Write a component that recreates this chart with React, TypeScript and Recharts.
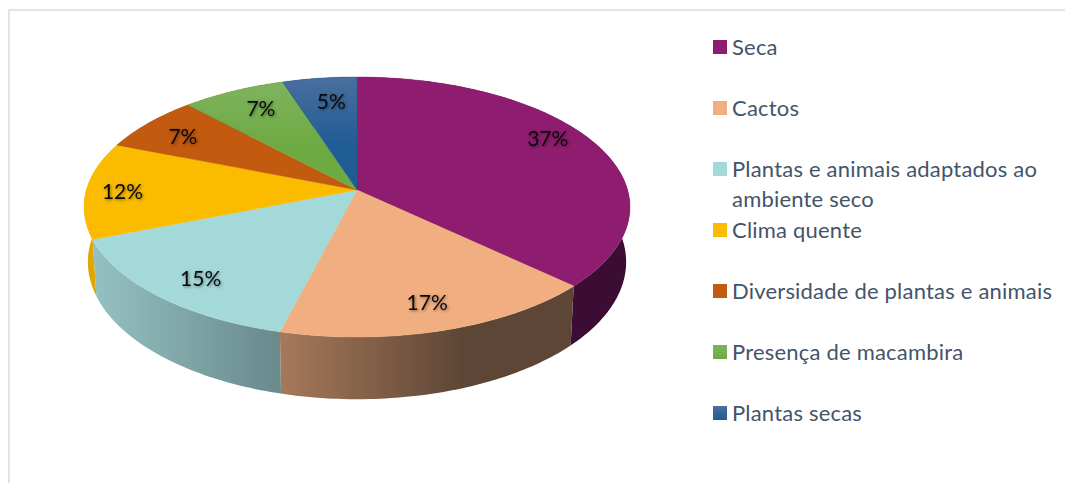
import { PieChart, Pie, Legend } from "recharts";

const THEMES = [
  "Seca",
  "Cactos",
  "Plantas e animais adaptados ao ambiente seco",
  "Clima quente",
  "Diversidade de plantas e animais",
  "Presença de macambira",
  "Plantas secas",
];
const SHARES = [37, 17, 15, 12, 7, 7, 5];

const TOP_COLORS = ["#8f1d6f", "#f1ae80", "#a4d9da", "#fbbc00", "#c25a10", "#6eaa42", "#205c94"];
const TOP_LIGHT = ["#8f1d6f", "#f1ae80", "#a4d9da", "#fbbc00", "#c25a10", "#7eb35f", "#4a6f9e"];
const WALL_FROM = ["#3b0c34", "#a6795b", "#95c1c2", "#dfa702", "#7d3a0a", "#47702b", "#153c60"];
const WALL_TO = ["#3b0c34", "#5e4636", "#69898b", "#dfa702", "#7d3a0a", "#47702b", "#153c60"];

// small shifts that keep each percentage clear of the slice edges
const LABEL_NUDGE = [
  [0, -14],
  [3, 2],
  [-1, 4],
  [-18, 0],
  [-5, 0],
  [5, -2],
  [5, 2],
];

const rows = THEMES.map((name, i) => ({ name, value: SHARES[i], fill: TOP_COLORS[i] }));

const WIDTH = 1065;
const HEIGHT = 483;
const CX = 357;
const CY = 190;
const RADIUS = 270.6;

// perspective of the tilted disc
const SQUASH = 127.8 / RADIUS;
const NEAR = 0.131;
const DEPTH = 54;
const TAPER = 0.986;
const LABEL_RADIUS = 0.8;

// angle in recharts degrees, r as a fraction of the radius, on the top face or on the base
function project(cx: number, cy: number, radius: number, angle: number, r = 1, base = false) {
  const a = ((90 - angle) * Math.PI) / 180;
  const x = Math.sin(a) * r;
  const y = -Math.cos(a) * r;
  const w = 1 - NEAR * y;
  const px = (radius * x) / w;
  const py = (radius * SQUASH * y) / w;
  if (!base) return { x: cx + px, y: cy + py };
  return { x: cx + px * TAPER, y: cy + py + DEPTH / w };
}

function rim(props: any, base = false) {
  const { cx, cy, outerRadius, startAngle, endAngle } = props;
  const steps = Math.max(2, Math.ceil(Math.abs(startAngle - endAngle)));
  const pts = [];
  for (let i = 0; i <= steps; i++) {
    const angle = startAngle + ((endAngle - startAngle) * i) / steps;
    pts.push(project(cx, cy, outerRadius, angle, 1, base));
  }
  return pts;
}

const toPath = (pts: { x: number; y: number }[]) =>
  pts.map((p, i) => `${i ? "L" : "M"}${p.x.toFixed(2)} ${p.y.toFixed(2)}`).join(" ");

function TopFace(props: any) {
  const i = THEMES.indexOf(props.name);
  const d = `M${props.cx} ${props.cy} ${toPath(rim(props)).replace("M", "L")} Z`;
  return (
    <g>
      <defs>
        <linearGradient id={`top-${i}`} x1="0" y1="0" x2="0" y2="1">
          <stop offset="0" stopColor={TOP_LIGHT[i]} />
          <stop offset="0.6" stopColor={TOP_COLORS[i]} />
        </linearGradient>
      </defs>
      <path d={d} fill={`url(#top-${i})`} stroke={TOP_COLORS[i]} strokeWidth={0.4} />
    </g>
  );
}

function SideWall(props: any) {
  const i = THEMES.indexOf(props.name);
  const d = `${toPath(rim(props))} ${toPath(rim(props, true).reverse()).replace("M", "L")} Z`;
  return (
    <g>
      <defs>
        <linearGradient id={`wall-${i}`} x1="0" y1="0" x2="1" y2="0">
          <stop offset="0" stopColor={WALL_FROM[i]} />
          <stop offset={i === 1 ? 0.62 : 1} stopColor={WALL_TO[i]} />
        </linearGradient>
      </defs>
      <path d={d} fill={`url(#wall-${i})`} />
    </g>
  );
}

function renderLabel(props: any) {
  const { cx, cy, outerRadius, midAngle, value, index } = props;
  const p = project(cx, cy, outerRadius, midAngle, LABEL_RADIUS);
  const [dx, dy] = LABEL_NUDGE[index];
  return (
    <text
      x={p.x + dx}
      y={p.y + dy}
      textAnchor="middle"
      dominantBaseline="central"
      fill="#0a0a0a"
      fontSize={21}
      style={{ filter: "drop-shadow(1px 1px 1.5px rgba(0,0,0,0.45))" }}
    >
      {value}%
    </text>
  );
}

// the two pies both report to the legend, so each theme is listed once, in data order
function LegendList({ payload }: any) {
  const items = THEMES.filter((t) => (payload ?? []).some((p: any) => p.value === t));
  return (
    <div style={{ fontFamily: "Lato", fontSize: 22, letterSpacing: 0.2, lineHeight: "30px", color: "#44546a" }}>
      {items.map((name) => {
        const i = THEMES.indexOf(name);
        return (
          <div key={name} style={{ height: 61, position: "relative", paddingLeft: 20 }}>
            <span
              style={{
                position: "absolute",
                left: 1,
                top: 8,
                width: 14,
                height: 14,
                background: `linear-gradient(${TOP_LIGHT[i]}, ${TOP_COLORS[i]})`,
              }}
            />
            {name}
          </div>
        );
      })}
    </div>
  );
}

export default function App() {
  return (
    <div style={{ position: "absolute", left: 0, top: 0, width: WIDTH, height: HEIGHT, background: "#fff", overflow: "hidden" }}>
      <div
        style={{
          position: "absolute",
          left: 8,
          top: 9,
          width: WIDTH,
          height: HEIGHT,
          borderLeft: "2px solid #dfe5ee",
          borderTop: "2px solid #dfe5ee",
        }}
      />
      <PieChart width={WIDTH} height={HEIGHT} margin={{ top: 0, right: 0, bottom: 0, left: 0 }} style={{ fontFamily: "Lato" }}>
        <Pie
          data={rows}
          dataKey="value"
          nameKey="name"
          cx={CX}
          cy={CY}
          outerRadius={RADIUS}
          startAngle={90}
          endAngle={-270}
          stroke="none"
          legendType="none"
          shape={SideWall}
          isAnimationActive={false}
        />
        <Pie
          data={rows}
          dataKey="value"
          nameKey="name"
          cx={CX}
          cy={CY}
          outerRadius={RADIUS}
          startAngle={90}
          endAngle={-270}
          stroke="none"
          shape={TopFace}
          label={renderLabel}
          labelLine={false}
          isAnimationActive={false}
        />
        <Legend
          layout="vertical"
          align="right"
          verticalAlign="top"
          width={350}
          content={LegendList}
          wrapperStyle={{ left: 712, top: 32 }}
        />
      </PieChart>
    </div>
  );
}
